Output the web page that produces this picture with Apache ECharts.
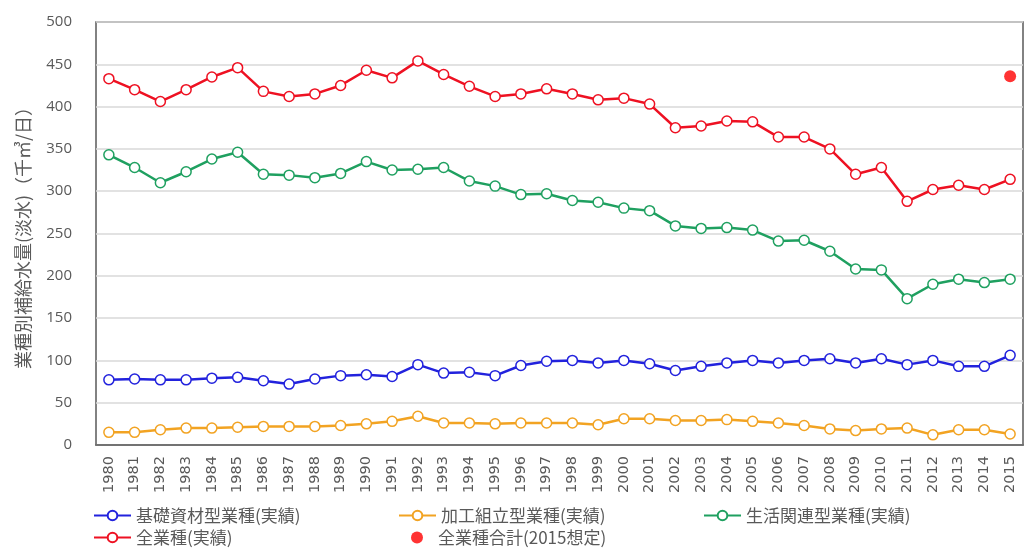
<!DOCTYPE html>
<html>
<head>
<meta charset="utf-8">
<script src="https://cdn.jsdelivr.net/npm/echarts@6/dist/echarts.min.js"></script>
<style>
  html, body { margin: 0; padding: 0; background: #fff; }
  #chart { width: 1033px; height: 556px; }
</style>
</head>
<body>
<div id="chart"></div>
<script>
// years on the x axis
const years = ['1980','1981','1982','1983','1984','1985','1986','1987','1988','1989',
  '1990','1991','1992','1993','1994','1995','1996','1997','1998','1999',
  '2000','2001','2002','2003','2004','2005','2006','2007','2008','2009',
  '2010','2011','2012','2013','2014','2015']

// 基礎資材型業種(実績)
const basicMaterials = [77, 78, 77, 77, 79, 80, 76, 72, 78, 82,
  83, 81, 95, 85, 86, 82, 94, 99, 100, 97,
  100, 96, 88, 93, 97, 100, 97, 100, 102, 97,
  102, 95, 100, 93, 93, 106]

// 加工組立型業種(実績)
const assembly = [15, 15, 18, 20, 20, 21, 22, 22, 22, 23,
  25, 28, 34, 26, 26, 25, 26, 26, 26, 24,
  31, 31, 29, 29, 30, 28, 26, 23, 19, 17,
  19, 20, 12, 18, 18, 13]

// 生活関連型業種(実績)
const lifestyle = [343, 328, 310, 323, 338, 346, 320, 319, 316, 321,
  335, 325, 326, 328, 312, 306, 296, 297, 289, 287,
  280, 277, 259, 256, 257, 254, 241, 242, 229, 208,
  207, 173, 190, 196, 192, 196]

// 全業種(実績)
const allIndustries = [433, 420, 406, 420, 435, 446, 418, 412, 415, 425,
  443, 434, 454, 438, 424, 412, 415, 421, 415, 408,
  410, 403, 375, 377, 383, 382, 364, 364, 350, 320,
  328, 288, 302, 307, 302, 314]

// 全業種合計(2015想定)
const forecast2015 = [['2015', 436]]

const yTicks = { min: 0, max: 500, interval: 50 }

const grey = '#595959'

function lineSeries(name, data, color) {
  return {
    name: name,
    type: 'line',
    data: data,
    symbol: 'circle',
    symbolSize: 10,
    lineStyle: { color: color, width: 2.5 },
    itemStyle: { color: '#ffffff', borderColor: color, borderWidth: 1.5, opacity: 1 },
    emphasis: { disabled: true }
  }
}

function legendAt(name, left, top, extra) {
  return Object.assign({
    data: [name],
    left: left,
    top: top,
    itemWidth: 37,
    itemHeight: 12,
    selectedMode: false,
    textStyle: { color: grey, fontSize: 17, fontFamily: 'Noto Sans CJK JP' }
  }, extra || {})
}

const chart = echarts.init(document.getElementById('chart'))

chart.setOption({
  animation: false,
  backgroundColor: '#ffffff',
  grid: {
    left: 96,
    right: 10,
    top: 22,
    bottom: 111,
    show: true,
    borderColor: '#595959',
    borderWidth: 1.5
  },
  legend: [
    legendAt('基礎資材型業種(実績)', 88, 502),
    legendAt('加工組立型業種(実績)', 393, 502),
    legendAt('生活関連型業種(実績)', 698, 502),
    legendAt('全業種(実績)', 88, 524),
    legendAt('全業種合計(2015想定)', 406, 524, {
      itemWidth: 12,
      itemHeight: 12,
      textStyle: { color: grey, fontSize: 17, fontFamily: 'Noto Sans CJK JP', padding: [0, 0, 0, 10] }
    })
  ],
  xAxis: {
    type: 'category',
    data: years,
    boundaryGap: true,
    axisLine: { lineStyle: { color: '#595959', width: 1.5 } },
    axisTick: { inside: true, length: 5, lineStyle: { color: '#595959' } },
    axisLabel: {
      rotate: 90,
      margin: 11,
      interval: 0,
      color: grey,
      fontSize: 14.5,
      fontFamily: 'DejaVu Sans'
    }
  },
  yAxis: {
    type: 'value',
    min: yTicks.min,
    max: yTicks.max,
    interval: yTicks.interval,
    name: '業種別補給水量(淡水)（千㎥/日）',
    nameLocation: 'middle',
    nameRotate: 90,
    nameGap: 64,
    nameTextStyle: { color: grey, fontSize: 18, fontFamily: 'Noto Sans CJK JP' },
    axisLine: { show: false },
    axisTick: { show: false },
    splitLine: { lineStyle: { color: '#d9d9d9', width: 1.5 } },
    axisLabel: { color: grey, fontSize: 15, margin: 24, fontFamily: 'Open Sans' }
  },
  series: [
    lineSeries('基礎資材型業種(実績)', basicMaterials, '#2222dd'),
    lineSeries('加工組立型業種(実績)', assembly, '#f2a322'),
    lineSeries('生活関連型業種(実績)', lifestyle, '#1fa060'),
    lineSeries('全業種(実績)', allIndustries, '#ee1122'),
    {
      name: '全業種合計(2015想定)',
      type: 'scatter',
      data: forecast2015,
      symbol: 'circle',
      symbolSize: 12,
      itemStyle: { color: '#ff0000' },
      emphasis: { disabled: true }
    }
  ]
})
</script>
</body>
</html>
